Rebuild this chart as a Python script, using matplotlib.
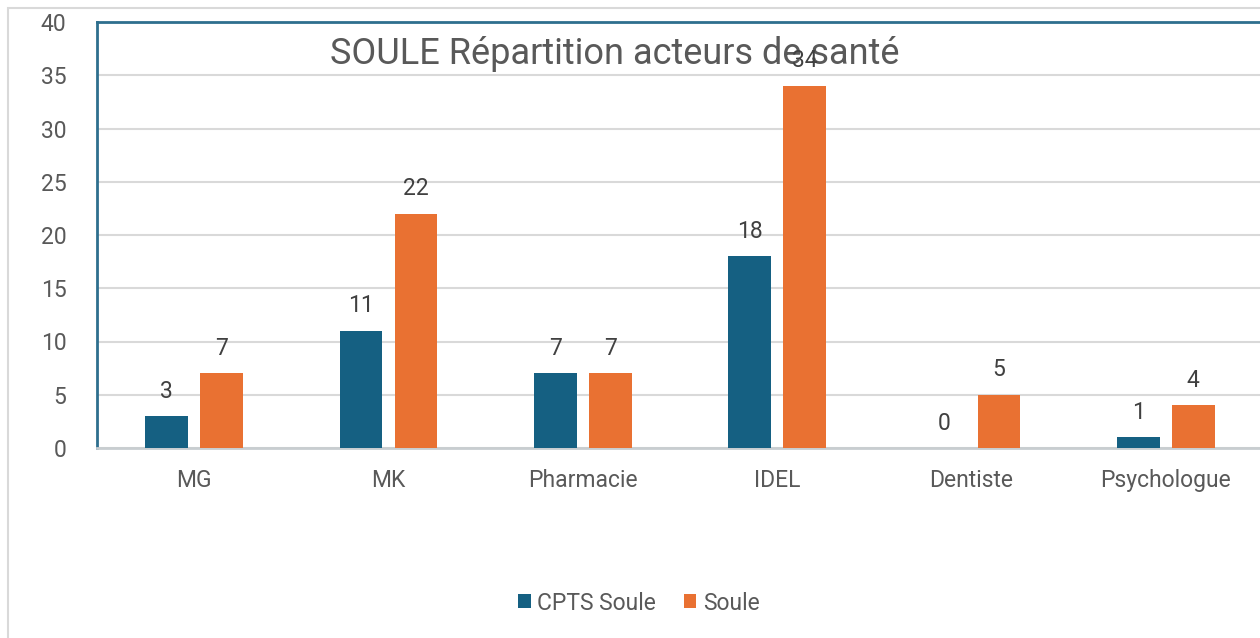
import matplotlib.pyplot as plt
import numpy as np

plt.rcParams['font.family'] = ['Roboto', 'DejaVu Sans']

# data
categories = ['MG', 'MK', 'Pharmacie', 'IDEL', 'Dentiste', 'Psychologue']
cpts_soule = [3, 11, 7, 18, 0, 1]
soule = [7, 22, 7, 34, 5, 4]
series_names = ['CPTS Soule', 'Soule']

BLUE = '#156082'
ORANGE = '#E97132'
GREY = '#595959'

fig = plt.figure(figsize=(12.6, 6.38), dpi=100)

# light outer chart border
fig.add_artist(plt.Rectangle((8 / 1260, -0.1), 1.2, (638 - 8) / 638 + 0.1,
                             transform=fig.transFigure, fill=False,
                             edgecolor='#d9d9d9', lw=1.5))

ax = fig.add_axes([97 / 1260, (638 - 448) / 638, 1166 / 1260, 426 / 638])

x = np.arange(len(categories))
w = 0.221
off = 0.1415
b1 = ax.bar(x - off, cpts_soule, w, color=BLUE, label=series_names[0], zorder=3)
b2 = ax.bar(x + off, soule, w, color=ORANGE, label=series_names[1], zorder=3)

for bars in (b1, b2):
    for r in bars:
        h = r.get_height()
        ax.annotate(f'{h:g}', (r.get_x() + r.get_width() / 2, h),
                    xytext=(0, 18), textcoords='offset points',
                    ha='center', va='center', fontsize=16.5, color='#404040', zorder=5)

ax.set_xlim(-0.5, len(categories) - 0.5)
ax.set_ylim(0, 40)
ax.set_yticks(range(0, 41, 5))
ax.set_xticks(x)
ax.set_xticklabels(categories)
ax.tick_params(axis='both', length=0, labelsize=16.5, labelcolor=GREY)
ax.tick_params(axis='x', pad=15)
ax.tick_params(axis='y', pad=22)
ax.grid(axis='y', color='#d9d9d9', lw=1.5, zorder=0)

for s in ('top', 'left'):
    ax.spines[s].set_color('#2e6f8e')
    ax.spines[s].set_linewidth(2)
ax.spines['right'].set_visible(False)
ax.spines['bottom'].set_color('#c8cdd0')
ax.spines['bottom'].set_linewidth(2)

ax.text(615 / 1260, 1 - 54 / 638, 'SOULE Répartition acteurs de santé', transform=fig.transFigure,
        ha='center', va='center', fontsize=26, color=GREY, zorder=4)

fig.legend(handles=[b1, b2], loc='center', bbox_to_anchor=(639 / 1260, 1 - 603 / 638),
           ncol=2, frameon=False, fontsize=16.5, labelcolor=GREY,
           handlelength=0.55, handleheight=0.55, handletextpad=0.3, columnspacing=1.2)

fig.savefig('out.png', dpi=100)
